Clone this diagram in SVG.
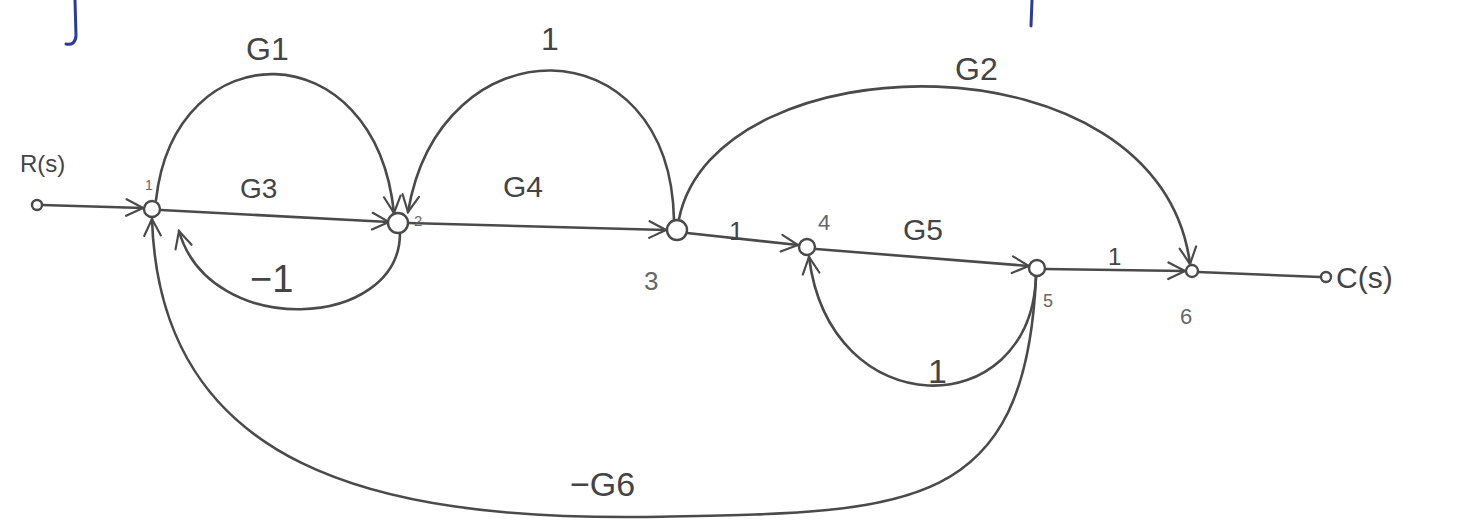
<svg xmlns="http://www.w3.org/2000/svg" width="1464" height="522" viewBox="0 0 1464 522">
<defs>
<style>
.e{fill:none;stroke:#4a4a4a;stroke-width:2.6;stroke-linecap:round}
.n{fill:#fff;stroke:#4a4a4a;stroke-width:2.4}
.t{font-family:"Liberation Sans",Arial,sans-serif;fill:#444}
.s{font-family:"Liberation Sans",Arial,sans-serif;fill:#666}
.b{fill:none;stroke:#2b3b9c;stroke-width:3;stroke-linecap:round}
</style>
<marker id="A" viewBox="0 0 12 12" refX="11" refY="6" markerWidth="20" markerHeight="20" orient="auto" markerUnits="userSpaceOnUse">
<path d="M1,1 L11,6 L1,11" fill="none" stroke="#4a4a4a" stroke-width="1.3" stroke-linecap="round"/>
</marker>
</defs>
<rect width="1464" height="522" fill="#fff"/>
<path class="b" d="M75,0 L76,36 Q75,46 66,44"/>
<path class="b" d="M1032,0 L1031,26"/>
<g id="edges">
<path class="e" d="M42,205 L143,208" marker-end="url(#A)"/>
<path class="e" d="M161,210 L389,222" marker-end="url(#A)"/>
<path class="e" d="M156,200 C175,30 375,30 394,213" marker-end="url(#A)"/>
<path class="e" d="M400,233 C400,330 210,340 179,231" marker-end="url(#A)"/>
<path class="e" d="M408,223 L666,230" marker-end="url(#A)"/>
<path class="e" d="M674,220 C670,22 440,22 408,212" marker-end="url(#A)"/>
<path class="e" d="M687,233 L798,245" marker-end="url(#A)"/>
<path class="e" d="M679,219 C715,40 1160,30 1190,264" marker-end="url(#A)"/>
<path class="e" d="M816,249 L1029,266" marker-end="url(#A)"/>
<path class="e" d="M1036,277 C1030,425 830,425 809,257" marker-end="url(#A)"/>
<path class="e" d="M1045,269 L1185,271" marker-end="url(#A)"/>
<path class="e" d="M1198,272 L1320,277"/>
<path class="e" d="M1036,277 C1025,520 900,512 640,517 C380,519 160,470 152,219" marker-end="url(#A)"/>
</g>
<g id="nR"><circle class="n" cx="37" cy="205" r="5"/><text class="t" x="20" y="172" font-size="24">R(s)</text></g>
<g id="n1"><circle class="n" cx="152" cy="209" r="8"/><text class="s" x="145" y="190" font-size="14">1</text></g>
<g id="n2"><circle class="n" cx="398" cy="223" r="10"/><text class="s" x="414" y="226" font-size="15">2</text></g>
<g id="n3"><circle class="n" cx="677" cy="230" r="10"/><text class="s" x="644" y="290" font-size="26">3</text></g>
<g id="n4"><circle class="n" cx="807" cy="247" r="8"/><text class="s" x="818" y="230" font-size="22">4</text></g>
<g id="n5"><circle class="n" cx="1037" cy="268" r="8"/><text class="s" x="1043" y="307" font-size="18">5</text></g>
<g id="n6"><circle class="n" cx="1192" cy="271" r="6"/><text class="s" x="1180" y="324" font-size="22">6</text></g>
<g id="nC"><circle class="n" cx="1326" cy="277" r="5"/><text class="t" x="1336" y="288" font-size="30">C(s)</text></g>
<g id="labels">
<text class="t" x="246" y="60" font-size="32">G1</text>
<text class="t" x="240" y="198" font-size="28">G3</text>
<text class="t" x="250" y="292" font-size="38">−1</text>
<text class="t" x="541" y="50" font-size="32">1</text>
<text class="t" x="503" y="197" font-size="30">G4</text>
<text class="t" x="729" y="240" font-size="26">1</text>
<text class="t" x="955" y="80" font-size="32">G2</text>
<text class="t" x="903" y="240" font-size="30">G5</text>
<text class="t" x="1108" y="265" font-size="24">1</text>
<text class="t" x="928" y="383" font-size="34">1</text>
<text class="t" x="570" y="496" font-size="34">−G6</text>
</g>
</svg>
